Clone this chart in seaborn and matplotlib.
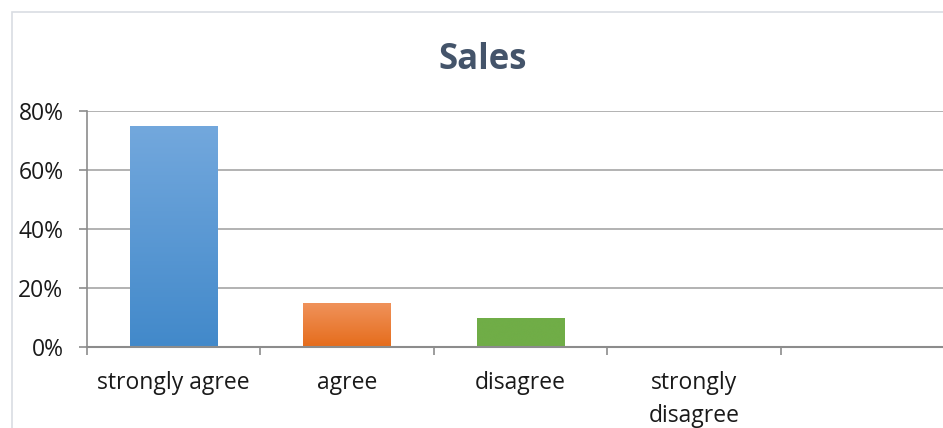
import numpy as np
import pandas as pd
import matplotlib
matplotlib.use("Agg")
import matplotlib.pyplot as plt
from matplotlib.patches import Rectangle
from matplotlib.colors import LinearSegmentedColormap
from matplotlib.ticker import FixedLocator, FuncFormatter
import seaborn as sns

categories = ["strongly agree", "agree", "disagree", "strongly\ndisagree", ""]
shares = [0.75, 0.15, 0.10, 0.0, 0.0]
y_ticks = [0.0, 0.2, 0.4, 0.6, 0.8]
title = "Sales"

# top/bottom colours of each bar's vertical gradient
bar_tops = ["#73a8dd", "#f0935c", "#70ad47", "#4a89c8", "#4a89c8"]
bar_bottoms = ["#4289ca", "#e56c1b", "#70ad47", "#4a89c8", "#4a89c8"]

sns.set_theme(style="white")
plt.rcParams["font.family"] = ["Open Sans", "DejaVu Sans"]

W, H = 943, 428
fig = plt.figure(figsize=(W / 100, H / 100), dpi=100)
ax = fig.add_axes([87 / W, 1 - 347 / H, (954 - 87) / W, (347 - 111) / H])

df = pd.DataFrame({"category": categories, "share": shares})
sns.barplot(data=df, x="category", y="share", hue="category", palette=bar_bottoms,
            legend=False, width=0.505, ax=ax, saturation=1)

# vertical gradient fill clipped to each bar
for patch, c_top, c_bot in zip(ax.patches, bar_tops, bar_bottoms):
    h = patch.get_height()
    if h <= 0:
        patch.set_visible(False)
        continue
    x0 = patch.get_x()
    w = patch.get_width()
    cmap = LinearSegmentedColormap.from_list("g", [c_bot, c_top])
    grad = np.linspace(0, 1, 256).reshape(-1, 1)
    im = ax.imshow(grad, cmap=cmap, aspect="auto", origin="lower",
                   extent=[x0, x0 + w, 0, h], zorder=patch.get_zorder() + 0.1)
    im.set_clip_path(patch)
    patch.set_edgecolor("none")

ax.set_xlim(-0.5, 4.5)
ax.set_ylim(0, 0.8)
ax.set_xlabel("")
ax.set_ylabel("")

ax.yaxis.set_major_locator(FixedLocator(y_ticks))
ax.yaxis.set_major_formatter(FuncFormatter(lambda v, _: f"{v * 100:.0f}%"))
ax.grid(axis="y", color="#a6a6a6", linewidth=1.2)
ax.set_axisbelow(True)

# category boundaries carry tick marks, labels sit at the centres
ax.xaxis.set_major_locator(FixedLocator(np.arange(-0.5, 5.0, 1.0)))
ax.xaxis.set_minor_locator(FixedLocator(np.arange(0, 5)))
ax.set_xticklabels([""] * 6)
ax.set_xticklabels(categories, minor=True)
ax.tick_params(axis="x", which="major", length=6, width=1.2, color="#8c8c8c",
               direction="out", bottom=True)
ax.tick_params(axis="x", which="minor", length=0, pad=17, labelsize=16.5,
               labelcolor="#1a1a1a")
ax.tick_params(axis="y", which="major", length=6, width=1.2, color="#8c8c8c",
               direction="out", left=True, labelsize=16.5, labelcolor="#1a1a1a",
               pad=11)
for lbl in ax.get_xticklabels(minor=True):
    lbl.set_linespacing(1.5)
    lbl.set_verticalalignment("top")

for side in ["top", "right"]:
    ax.spines[side].set_visible(False)
ax.spines["left"].set_visible(True)
ax.spines["left"].set_color("#8c8c8c")
ax.spines["left"].set_linewidth(1.2)
ax.spines["bottom"].set_color("#8c8c8c")
ax.spines["bottom"].set_linewidth(1.5)

fig.text(483 / W, 1 - 60 / H, title, ha="center", va="center", fontsize=25,
         fontweight="bold", color="#44546a", family=["Open Sans", "DejaVu Sans"])

# outer chart border
fig.patches.append(Rectangle((12 / W, -0.1), 1.2, 1 - 12 / H + 0.1,
                             transform=fig.transFigure, fill=False,
                             edgecolor="#d9dde3", linewidth=1.2))

fig.savefig("out.png", dpi=100)
